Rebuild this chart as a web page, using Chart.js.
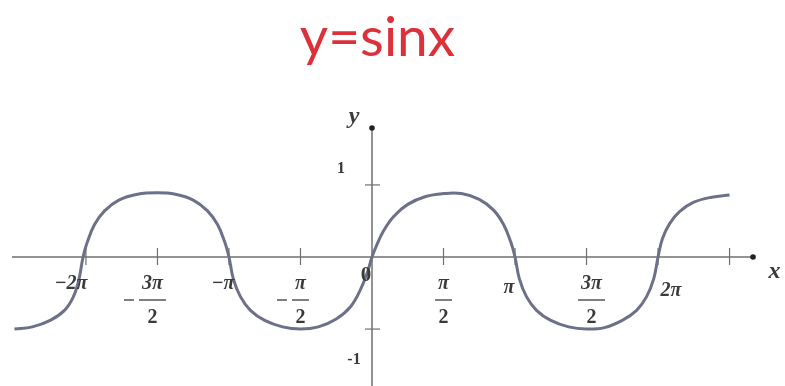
<!DOCTYPE html>
<html>
<head>
<meta charset="utf-8">
<script src="https://cdn.jsdelivr.net/npm/chart.js@4"></script>
<style>
  html, body { margin: 0; padding: 0; background: #fff; }
  #wrap { width: 785px; height: 386px; }
</style>
</head>
<body>
<div id="wrap"><canvas id="chart"></canvas></div>
<script>
// x positions in units of pi, y values
const xPi = [
  -2.5, -2.375, -2.25, -2.15, -2.09, -2.05, -2.02,
  -1.99, -1.94, -1.87, -1.77, -1.64, -1.5, -1.375, -1.25, -1.15, -1.08, -1.03, -1,
  -0.97, -0.92, -0.85, -0.75, -0.625, -0.5, -0.375, -0.25, -0.15, -0.08, -0.03, 0,
  0.03, 0.08, 0.15, 0.25, 0.375, 0.5, 0.625, 0.75, 0.85, 0.92, 0.97, 1,
  1.03, 1.08, 1.15, 1.25, 1.375, 1.5, 1.625, 1.75, 1.85, 1.92, 1.97, 2,
  2.03, 2.08, 2.15, 2.25, 2.375, 2.5
];
const yVals = [
  -1.0, -0.97, -0.88, -0.74, -0.56, -0.32, 0,
  0.21, 0.45, 0.64, 0.79, 0.87, 0.89, 0.87, 0.79, 0.64, 0.45, 0.21, 0,
  -0.30, -0.55, -0.74, -0.88, -0.97, -1.0, -0.97, -0.86, -0.69, -0.45, -0.20, 0,
  0.15, 0.36, 0.56, 0.73, 0.84, 0.88, 0.88, 0.80, 0.65, 0.45, 0.21, 0,
  -0.30, -0.55, -0.74, -0.88, -0.97, -1.0, -0.98, -0.88, -0.74, -0.55, -0.30, 0,
  0.25, 0.46, 0.63, 0.76, 0.83, 0.86
];

// x axis ticks (in pi) and their labels: [numerator, denominator, negative]
const xTicks = [-2, -1.5, -1, -0.5, 0, 0.5, 1, 1.5, 2, 2.5];
const xTickLabels = [
  ['−2π'], ['3π', '2', true], ['−π'], ['π', '2', true], ['0'],
  ['π', '2'], ['π'], ['3π', '2'], ['2π'], []
];
const xAxisEnd = 2.664;
const yTicks = [1, -1];
const yTickLabels = ['1', '-1'];

const axisColor = '#6f6f6f';
const labelColor = '#3a3a3a';
const labelFont = 'bold italic 20px "Liberation Serif"';
const digitFont = 'bold 20px "Liberation Serif"';

const axesPlugin = {
  id: 'crossAxes',
  beforeDatasetsDraw(chart) {
    const ctx = chart.ctx;
    const xs = chart.scales.x, ys = chart.scales.y;
    const x0 = xs.getPixelForValue(0), y0 = ys.getPixelForValue(0);
    const area = chart.chartArea;
    const xEnd = xs.getPixelForValue(xAxisEnd);
    ctx.save();
    ctx.strokeStyle = axisColor;
    ctx.fillStyle = '#222';
    ctx.lineWidth = 1.5;
    // x axis
    ctx.beginPath();
    ctx.moveTo(area.left, y0);
    ctx.lineTo(xEnd, y0);
    ctx.stroke();
    // y axis
    ctx.beginPath();
    ctx.moveTo(x0, area.bottom);
    ctx.lineTo(x0, area.top);
    ctx.stroke();
    // arrow dots
    ctx.beginPath();
    ctx.arc(xEnd, y0, 2.8, 0, Math.PI * 2);
    ctx.fill();
    ctx.beginPath();
    ctx.arc(x0, area.top, 2.8, 0, Math.PI * 2);
    ctx.fill();
    // x ticks
    ctx.lineWidth = 1.2;
    xTicks.forEach(v => {
      const px = xs.getPixelForValue(v);
      if (v === 0) return;
      ctx.beginPath();
      ctx.moveTo(px, y0 - 9);
      ctx.lineTo(px, y0 + 8);
      ctx.stroke();
    });
    // y ticks
    yTicks.forEach(v => {
      const py = ys.getPixelForValue(v);
      ctx.beginPath();
      ctx.moveTo(x0 - 7, py);
      ctx.lineTo(x0 + 8, py);
      ctx.stroke();
    });
    ctx.restore();
  },
  afterDatasetsDraw(chart) {
    const ctx = chart.ctx;
    const xs = chart.scales.x, ys = chart.scales.y;
    const x0 = xs.getPixelForValue(0), y0 = ys.getPixelForValue(0);
    ctx.save();
    ctx.fillStyle = labelColor;
    ctx.strokeStyle = labelColor;
    ctx.textAlign = 'center';
    ctx.textBaseline = 'middle';
    ctx.font = labelFont;

    xTicks.forEach((v, i) => {
      const lab = xTickLabels[i];
      if (!lab.length) return;
      let px = xs.getPixelForValue(v);
      if (lab.length === 1) {
        if (lab[0] === '0') {
          ctx.font = 'bold 21px "Liberation Serif"';
          ctx.fillText('0', px - 6, y0 + 19);
          ctx.font = labelFont;
          return;
        }
        let dx = 0, dy = 27;
        if (lab[0] === '−2π') dx = -15;
        if (lab[0] === '−π') dx = -6;
        if (lab[0] === 'π') { dx = -6; dy = 31; }
        if (lab[0] === '2π') { dx = 13; dy = 34; }
        ctx.fillText(lab[0], px + dx, y0 + dy);
        return;
      }
      // fraction
      if (v === -1.5) px -= 5;
      if (v === 1.5) px += 5;
      const w = ctx.measureText(lab[0]).width + 6;
      ctx.fillText(lab[0], px, y0 + 27);
      ctx.lineWidth = 1.3;
      ctx.beginPath();
      ctx.moveTo(px - w / 2, y0 + 43);
      ctx.lineTo(px + w / 2, y0 + 43);
      ctx.stroke();
      ctx.font = digitFont;
      ctx.fillText(lab[1], px, y0 + 61);
      ctx.font = labelFont;
      if (lab[2]) {
        ctx.beginPath();
        ctx.moveTo(px - w / 2 - 15, y0 + 43);
        ctx.lineTo(px - w / 2 - 5, y0 + 43);
        ctx.stroke();
      }
    });

    // y labels
    ctx.font = 'bold 16px "Liberation Serif"';
    ctx.fillText(yTickLabels[0], x0 - 31, ys.getPixelForValue(1) - 16);
    ctx.fillText(yTickLabels[1], x0 - 18, ys.getPixelForValue(-1) + 31);

    // axis names
    ctx.font = 'bold italic 24px "Liberation Serif"';
    ctx.fillText('y', x0 - 18, chart.chartArea.top - 11);
    ctx.fillText('x', xs.getPixelForValue(2.5) + 45, y0 + 15);
    ctx.restore();
  }
};

new Chart(document.getElementById('chart'), {
  type: 'scatter',
  data: {
    datasets: [{
      data: xPi.map((x, i) => ({ x: x, y: yVals[i] })),
      showLine: true,
      borderColor: '#6d7089',
      borderWidth: 3,
      pointRadius: 0,
      tension: 0.4
    }]
  },
  options: {
    responsive: true,
    maintainAspectRatio: false,
    animation: false,
    layout: { padding: { left: 12, right: 42, bottom: 0 } },
    plugins: {
      legend: { display: false },
      tooltip: { enabled: false },
      title: {
        display: true,
        text: 'y=sinx',
        color: '#dc313b',
        font: { family: 'Lato', size: 55, weight: 'normal', lineHeight: 1.2 },
        padding: { top: 5, bottom: 57 }
      }
    },
    scales: {
      x: { type: 'linear', min: -2.517, max: 2.594, display: false },
      y: { type: 'linear', min: -1.79, max: 1.79, display: false }
    }
  },
  plugins: [axesPlugin]
});
</script>
</body>
</html>
